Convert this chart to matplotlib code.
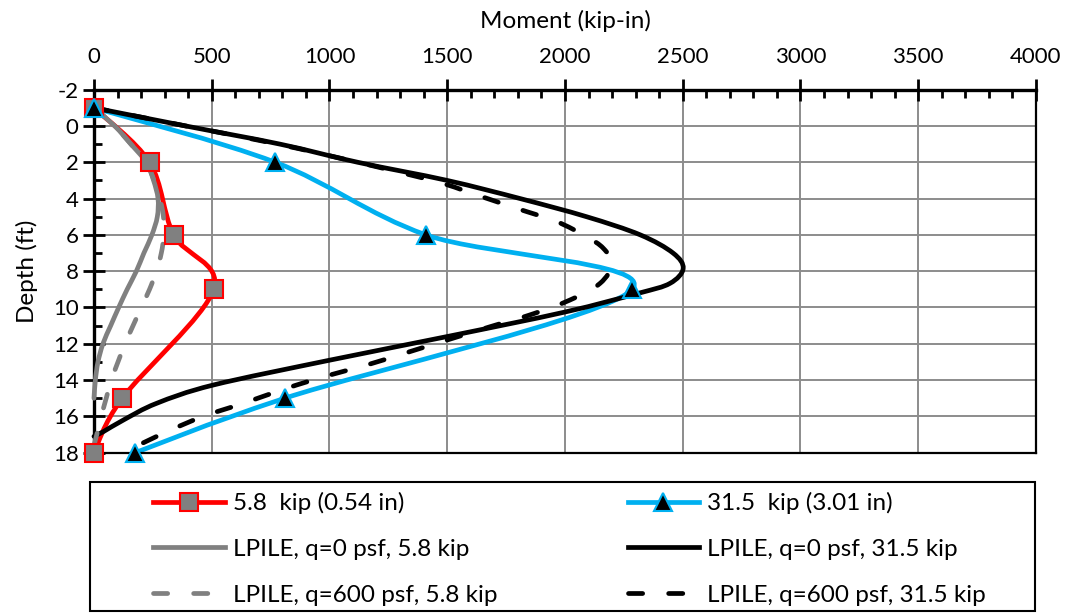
import numpy as np
import matplotlib.pyplot as plt
from matplotlib.path import Path
from matplotlib.patches import PathPatch, Rectangle
from matplotlib.lines import Line2D
from matplotlib.ticker import MultipleLocator

plt.rcParams['font.family'] = ['Lato', 'DejaVu Sans']
plt.rcParams['axes.unicode_minus'] = False

# measured (test) moments
test_depth = [-1, 2, 6, 9, 15, 18]
moment_5_8 = [0, 236, 338, 508, 120, 0]
moment_31_5 = [0, 770, 1410, 2285, 810, 175]

# LPILE, q=0 psf, 5.8 kip
lp0_58_depth = [-1, 0, 1, 2, 3, 4, 5, 6, 7, 8, 9, 10, 11, 12, 13, 14, 15]
lp0_58_mom = [0, 88, 157, 222, 253, 272, 269, 246, 212, 180, 141, 105, 71, 38, 17, 6, 0]

# LPILE, q=600 psf, 5.8 kip
lp600_58_depth = [-1, 0, 1, 2, 3, 4, 5, 6, 7, 8, 9, 10, 11, 12, 13, 14, 15, 16, 17, 17.6]
lp600_58_mom = [0, 88, 157, 222, 255, 280, 295, 297, 286, 265, 236, 201, 166, 132, 102, 74, 52, 31, 12, 0]

# LPILE, q=0 psf, 31.5 kip
lp0_315_depth = [-1, 0, 1, 2, 3, 4, 5, 6, 7, 7.85, 8.67, 9.22, 10.25, 11.6, 12.9,
                 14.27, 15.28, 16.2, 16.84, 17.1]
lp0_315_mom = [0, 390, 790, 1120, 1500, 1810, 2092, 2320, 2459, 2502, 2446, 2311, 2000, 1500, 1002,
               507, 266, 125, 40, 0]

# LPILE, q=600 psf, 31.5 kip
lp600_315_depth = [-1, 0, 1, 2, 3.07, 3.8, 4.54, 5.27, 6.1, 6.74, 7.6, 8.67,
                   9.59, 10.41, 11.06, 12.43, 13.17, 13.77, 14.45, 15.28, 16.0, 16.93, 18.0]
lp600_315_mom = [0, 390, 780, 1120, 1455, 1625, 1795, 1965, 2092, 2163, 2200, 2149,
                 2021, 1851, 1682, 1342, 1158, 988, 818, 634, 464, 294, 125]

labels = ["5.8  kip (0.54 in)", "LPILE, q=0 psf, 5.8 kip", "LPILE, q=600 psf, 5.8 kip",
          "31.5  kip (3.01 in)", "LPILE, q=0 psf, 31.5 kip", "LPILE, q=600 psf, 31.5 kip"]

RED = '#FF0000'
BLUE = '#00B0F0'
GREY = '#808080'
LW = 3.4
DASH = (0, (3, 5.5))
TICK_FS = 16
TEXT_FS = 17.5


def smooth_path(xs, ys):
    # excel-like smoothed line: bezier segments through every point
    p = np.column_stack([xs, ys]).astype(float)
    ext = np.vstack([p[0], p, p[-1]])
    verts = [p[0]]
    codes = [Path.MOVETO]
    for i in range(len(p) - 1):
        a, b, c, d = ext[i], ext[i + 1], ext[i + 2], ext[i + 3]
        verts += [b + (c - a) / 6, c - (d - b) / 6, c]
        codes += [Path.CURVE4] * 3
    return Path(verts, codes)


def add_curve(ax, xs, ys, color, ls='-', z=2):
    patch = PathPatch(smooth_path(xs, ys), fill=False, edgecolor=color, lw=LW,
                      linestyle=ls, capstyle='round', joinstyle='round', zorder=z,
                      clip_on=False)
    ax.add_patch(patch)


fig = plt.figure(figsize=(10.69, 6.13), dpi=100)
ax = fig.add_axes([0.0879, 0.2615, 0.8812, 0.5922])

add_curve(ax, moment_5_8, test_depth, RED, z=2)
add_curve(ax, moment_31_5, test_depth, BLUE, z=2)
add_curve(ax, lp0_58_mom, lp0_58_depth, GREY, z=3)
add_curve(ax, lp0_315_mom, lp0_315_depth, 'black', z=3)
add_curve(ax, lp600_58_mom, lp600_58_depth, GREY, ls=DASH, z=4)
add_curve(ax, lp600_315_mom, lp600_315_depth, 'black', ls=DASH, z=4)

ax.plot(moment_5_8, test_depth, ls='none', marker='s', ms=13, mfc=GREY, mec=RED, mew=1.5,
        zorder=6, clip_on=False)
ax.plot(moment_31_5, test_depth, ls='none', marker='^', ms=13, mfc='black', mec=BLUE, mew=1.5,
        zorder=6, clip_on=False)

ax.set_xlim(0, 4000)
ax.set_ylim(18, -2)
ax.xaxis.tick_top()
ax.xaxis.set_label_position('top')
ax.xaxis.set_major_locator(MultipleLocator(500))
ax.xaxis.set_minor_locator(MultipleLocator(100))
ax.yaxis.set_major_locator(MultipleLocator(2))
ax.yaxis.set_minor_locator(MultipleLocator(1))
ax.tick_params(which='both', top=True, bottom=False, left=True, right=False, labelsize=TICK_FS)
ax.tick_params(which='major', direction='inout', length=16, width=2, color='black')
ax.tick_params(axis='x', which='major', pad=8)
ax.tick_params(axis='y', which='major', pad=3)
ax.tick_params(which='minor', direction='in', length=6, width=2)
ax.grid(which='major', color='#8c8c8c', lw=1.4)
ax.set_axisbelow(True)
for side in ['top', 'left']:
    ax.spines[side].set_linewidth(2.4)
for side in ['bottom', 'right']:
    ax.spines[side].set_linewidth(1.6)

ax.set_xlabel("Moment (kip-in)", fontsize=TEXT_FS, labelpad=14)
ax.set_ylabel("Depth (ft)", fontsize=TEXT_FS, labelpad=11)

handles = [
    Line2D([], [], color=RED, lw=LW, marker='s', ms=13, mfc=GREY, mec=RED, mew=1.5),
    Line2D([], [], color=GREY, lw=LW),
    Line2D([], [], color=GREY, lw=LW, ls=DASH, dash_capstyle='round'),
    Line2D([], [], color=BLUE, lw=LW, marker='^', ms=13, mfc='black', mec=BLUE, mew=1.5),
    Line2D([], [], color='black', lw=LW),
    Line2D([], [], color='black', lw=LW, ls=DASH, dash_capstyle='round'),
]
fig.legend(handles, labels, ncol=2, loc='upper left', bbox_to_anchor=(153 / 1069, 1 - 492 / 613),
           frameon=False, fontsize=TEXT_FS, handlelength=2.96, handletextpad=0.33,
           columnspacing=5.35, labelspacing=1.02, borderpad=0, borderaxespad=0)
fig.add_artist(Rectangle((90 / 1069, 0.004), 945 / 1069, 0.2097, transform=fig.transFigure,
                         fill=False, edgecolor='black', lw=1.5))

fig.savefig('out.png', dpi=100)
